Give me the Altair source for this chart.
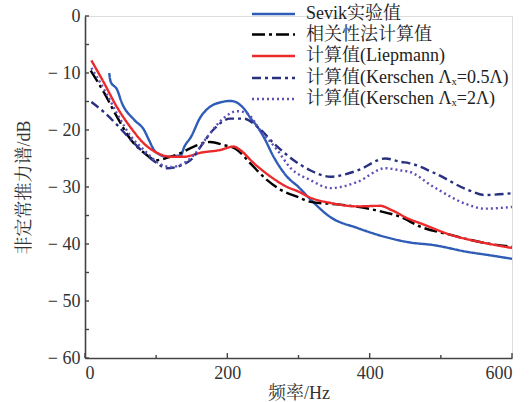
import altair as alt
import pandas as pd

# Frequency (Hz) / spectrum level (dB) for each curve
sevik_f = [34, 36, 45, 52, 69, 83, 90, 97, 106, 115, 125, 135, 139, 149, 162, 172, 180,
           192, 204, 212, 218, 225, 232, 242, 251, 265, 284, 300, 317, 345, 383, 420,
           455, 490, 538, 570, 600]
sevik_db = [-10.0, -11.5, -12.9, -15.3, -18.2, -20.0, -21.8, -23.5, -24.4, -24.7, -24.6,
            -24.4, -23.1, -21.2, -17.8, -16.3, -15.6, -15.1, -14.9, -15.1, -15.6, -16.5,
            -17.8, -19.4, -21.2, -24.7, -28.2, -30.0, -32.2, -35.3, -37.2, -38.7, -39.7,
            -40.2, -41.4, -42.0, -42.6]

corr_f = [8, 27, 45, 65, 83, 100, 115, 135, 153, 176, 194, 214, 232, 256, 275, 300, 317,
          359, 406, 444, 472, 514, 561, 600]
corr_db = [-9.6, -13.5, -17.7, -21.8, -24.0, -25.3, -24.9, -24.0, -22.9, -22.1, -22.6,
           -23.5, -25.8, -28.8, -30.5, -31.8, -32.6, -33.1, -34.0, -35.3, -37.0, -38.4,
           -39.8, -40.5]

liep_f = [9, 27, 45, 65, 83, 101, 121, 139, 162, 190, 209, 218, 237, 261, 284, 300, 317,
          345, 383, 415, 430, 455, 472, 514, 561, 600]
liep_db = [-7.8, -11.8, -16.0, -19.7, -22.4, -24.0, -24.7, -24.7, -24.0, -23.5, -22.9,
           -23.5, -25.8, -28.2, -30.0, -30.8, -31.9, -32.8, -33.4, -33.3, -34.0, -35.6,
           -36.4, -38.4, -39.8, -40.7]

kers05_f = [9, 27, 45, 65, 83, 101, 115, 135, 153, 162, 180, 204, 223, 242, 265, 289, 317,
            345, 383, 422, 444, 455, 490, 538, 561, 600]
kers05_db = [-15.1, -16.9, -19.1, -21.8, -24.0, -25.8, -26.7, -26.2, -24.7, -23.0, -20.0,
             -18.0, -18.0, -19.4, -22.3, -24.9, -27.1, -28.2, -27.1, -25.0, -25.6, -25.8,
             -27.5, -30.5, -31.4, -31.1]

kers2_f = [9, 27, 45, 65, 83, 101, 121, 139, 153, 172, 194, 214, 228, 246, 270, 289, 317,
           345, 383, 422, 444, 455, 490, 538, 561, 600]
kers2_db = [-9.1, -12.9, -17.1, -21.2, -23.5, -25.6, -26.5, -25.8, -24.4, -21.2, -18.0,
            -16.7, -17.1, -20.0, -23.5, -26.7, -28.8, -30.2, -29.1, -26.7, -27.1, -27.3,
            -30.0, -33.1, -33.8, -33.5]

series_names = [
    "Sevik实验值",
    "相关性法计算值",
    "计算值(Liepmann)",
    "计算值(Kerschen Λₓ=0.5Λ)",
    "计算值(Kerschen Λₓ=2Λ)",
]
series_colors = ["#2f5cb6", "#000000", "#ec2a2c", "#28307f", "#5b50b8"]
series_dashes = [[1, 0], [13, 4, 3, 4], [1, 0], [9, 4, 3, 4], [2, 3]]

x_ticks = [0, 100, 200, 300, 400, 500, 600]
x_labels = [0, 200, 400, 600]
y_ticks = [0, -5, -10, -15, -20, -25, -30, -35, -40, -45, -50, -55, -60]
y_labels = [0, -10, -20, -30, -40, -50, -60]

W, H = 427, 342
SERIF = "Liberation Serif, Noto Serif CJK SC, Noto Sans CJK SC"

# legend layout (pixels, relative to the plot area)
LEG_X0, LEG_X1, LEG_TX = 167, 210, 221
LEG_ROWS = [-2, 18.5, 40, 62, 83]

frames = []
for name, f, v in [
    (series_names[0], sevik_f, sevik_db),
    (series_names[1], corr_f, corr_db),
    (series_names[2], liep_f, liep_db),
    (series_names[3], kers05_f, kers05_db),
    (series_names[4], kers2_f, kers2_db),
]:
    frames.append(pd.DataFrame({"series": name, "f": f, "db": v}))
df = pd.concat(frames, ignore_index=True)

x_scale = alt.Scale(domain=[0, 600], nice=False, zero=False)
y_scale = alt.Scale(domain=[-60, 0], nice=False, zero=False)

lines = alt.Chart(df).mark_line(strokeWidth=2.4, interpolate="monotone").encode(
    x=alt.X("f:Q", scale=x_scale,
            axis=alt.Axis(title="频率/Hz", values=x_labels, ticks=False, grid=False,
                          labelFontSize=18, labelFont=SERIF, labelColor="#333",
                          labelPadding=6, titleFont=SERIF, titleFontSize=18,
                          titleFontWeight="normal", titleColor="#333", titlePadding=2,
                          domainColor="#444", domainWidth=1.6)),
    y=alt.Y("db:Q", scale=y_scale,
            axis=alt.Axis(title="非定常推力谱/dB", values=y_labels, ticks=False, grid=False,
                          labelExpr="datum.value < 0 ? '− ' + (-datum.value) : '0'",
                          labelFontSize=18, labelFont=SERIF, labelColor="#333",
                          labelPadding=5, titleFont=SERIF, titleFontSize=18,
                          titleFontWeight="normal", titleColor="#333", titlePadding=14,
                          domainColor="#444", domainWidth=1.6)),
    color=alt.Color("series:N",
                    scale=alt.Scale(domain=series_names, range=series_colors),
                    legend=None),
    strokeDash=alt.StrokeDash("series:N",
                              scale=alt.Scale(domain=series_names, range=series_dashes),
                              legend=None),
    order=alt.Order("f:Q"),
)

# inward-pointing tick marks on both axes
xt = pd.DataFrame({"v": x_ticks, "major": [v in x_labels for v in x_ticks]})
x_tick_major = alt.Chart(xt[xt.major]).mark_rule(color="#444", strokeWidth=1.4).encode(
    x=alt.X("v:Q", scale=x_scale), y=alt.value(H), y2=alt.value(H - 5))
x_tick_minor = alt.Chart(xt[~xt.major]).mark_rule(color="#444", strokeWidth=1.4).encode(
    x=alt.X("v:Q", scale=x_scale), y=alt.value(H), y2=alt.value(H - 3))
yt = pd.DataFrame({"v": y_ticks})
y_tick = alt.Chart(yt).mark_rule(color="#444", strokeWidth=1.4).encode(
    y=alt.Y("v:Q", scale=y_scale), x=alt.value(0), x2=alt.value(4))

# legend: one sample line and one label per series
legend_layers = []
for name, col, dash, ry in zip(series_names, series_colors, series_dashes, LEG_ROWS):
    one = pd.DataFrame({"series": [name]})
    legend_layers.append(
        alt.Chart(one).mark_rule(color=col, strokeDash=dash, strokeWidth=2.4).encode(
            x=alt.value(LEG_X0), x2=alt.value(LEG_X1), y=alt.value(ry)))
    legend_layers.append(
        alt.Chart(one).mark_text(align="left", baseline="middle", font=SERIF,
                                 fontSize=18, color="#222").encode(
            x=alt.value(LEG_TX), y=alt.value(ry), text="series:N"))

chart = alt.layer(lines, x_tick_major, x_tick_minor, y_tick, *legend_layers).properties(
    width=W, height=H,
    autosize=alt.AutoSizeParams(type="none"),
    padding={"left": 85, "top": 16, "right": 18, "bottom": 44},
).configure_view(stroke=None).configure(background="white")

chart.save("out.html", embed_options={"renderer": "svg", "actions": False})
